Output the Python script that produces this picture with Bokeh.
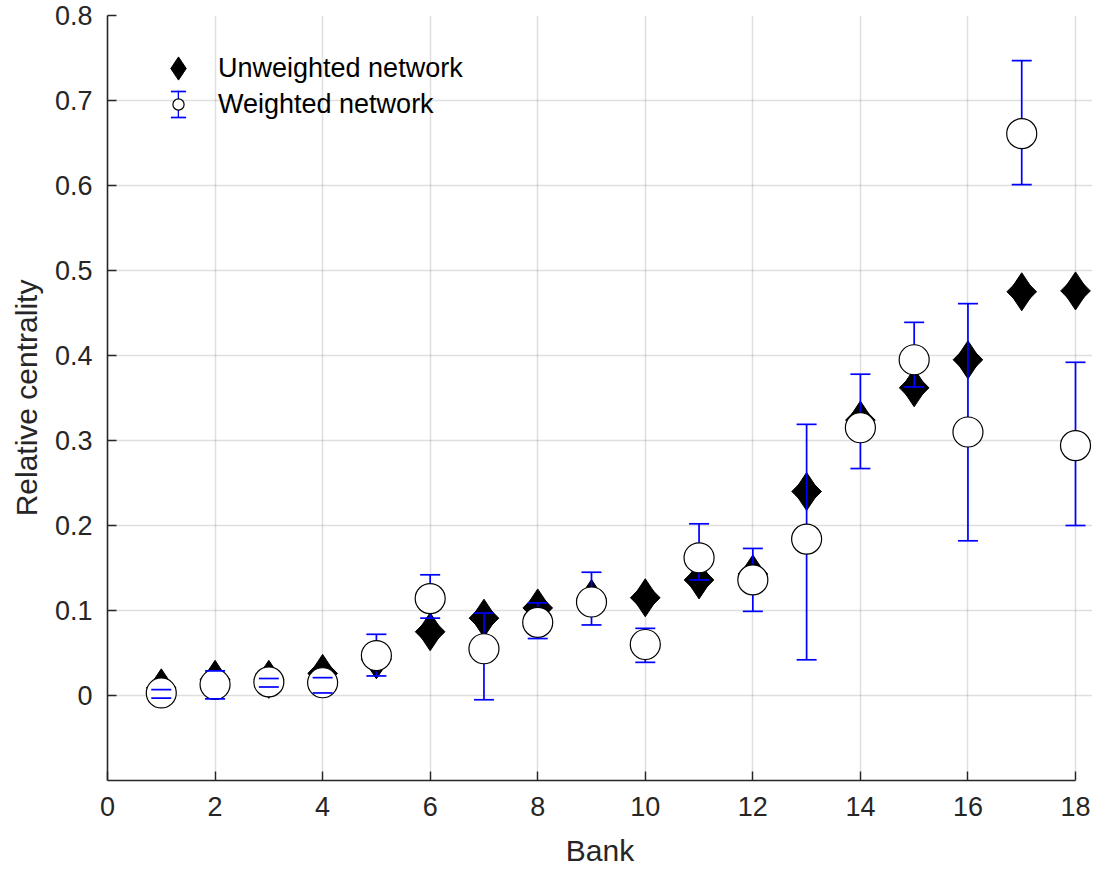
import math
from bokeh.plotting import figure
from bokeh.models import ColumnDataSource, Range1d, FixedTicker, Legend, LegendItem
from bokeh.embed import file_html
from bokeh.resources import INLINE

# ---- data ----
banks = list(range(1, 19))
unweighted = [0.009, 0.019, 0.019, 0.026, 0.042, 0.075, 0.091, 0.103, 0.114, 0.115,
              0.136, 0.143, 0.240, 0.324, 0.362, 0.395, 0.475, 0.476]
weighted = [0.003, 0.013, 0.016, 0.015, 0.047, 0.114, 0.055, 0.086, 0.110, 0.060,
            0.162, 0.136, 0.184, 0.315, 0.395, 0.310, 0.661, 0.294]
weighted_low = [-0.003, -0.004, 0.010, 0.003, 0.023, 0.091, -0.005, 0.067, 0.083, 0.039,
                0.136, 0.099, 0.042, 0.267, 0.363, 0.182, 0.601, 0.200]
weighted_high = [0.007, 0.029, 0.020, 0.021, 0.072, 0.142, 0.097, 0.109, 0.145, 0.079,
                 0.202, 0.173, 0.319, 0.378, 0.439, 0.461, 0.747, 0.392]

x_ticks = [0, 2, 4, 6, 8, 10, 12, 14, 16, 18]
x_tick_labels = ["0", "2", "4", "6", "8", "10", "12", "14", "16", "18"]
y_ticks = [0, 0.1, 0.2, 0.3, 0.4, 0.5, 0.6, 0.7, 0.8]
y_tick_labels = ["0", "0.1", "0.2", "0.3", "0.4", "0.5", "0.6", "0.7", "0.8"]

series_names = ["Unweighted network", "Weighted network"]
x_title = "Bank"
y_title = "Relative centrality"

# ---- styles ----
FONT = "Liberation Sans"
TXT = "#262626"
BLUE = "#0000ff"
STEM_W = 0.032  # error-bar stem width (data units, about 1.7 px)

src = ColumnDataSource(dict(bank=banks, unw=unweighted, w=weighted,
                            lo=weighted_low, hi=weighted_high))

p = figure(width=1092, height=869, output_backend="svg", toolbar_location=None,
           x_range=Range1d(0, 18.316), y_range=Range1d(-0.1, 0.8),
           min_border_left=107, min_border_right=0, min_border_top=15, min_border_bottom=89)
p.outline_line_color = None
p.background_fill_color = "white"
p.border_fill_color = "white"

# axes
for ax in (p.xaxis[0], p.yaxis[0]):
    ax.axis_line_color = TXT
    ax.axis_line_width = 1.6
    ax.major_tick_line_color = TXT
    ax.major_tick_line_width = 1.4
    ax.major_tick_in = 9
    ax.major_tick_out = 0
    ax.minor_tick_line_color = None
    ax.major_label_text_font = FONT
    ax.major_label_text_font_size = "27px"
    ax.major_label_text_color = TXT
    ax.axis_label_text_font = FONT
    ax.axis_label_text_font_size = "30px"
    ax.axis_label_text_font_style = "normal"
    ax.axis_label_text_color = TXT

p.xaxis.ticker = FixedTicker(ticks=x_ticks)
p.xaxis.major_label_overrides = dict(zip(x_ticks, x_tick_labels))
p.xaxis.bounds = (x_ticks[0], x_ticks[-1])
p.xaxis.axis_label = x_title
p.xaxis.major_label_standoff = 16
p.xaxis.axis_label_standoff = 15

p.yaxis.ticker = FixedTicker(ticks=y_ticks)
p.yaxis.major_label_overrides = dict(zip(y_ticks, y_tick_labels))
p.yaxis.axis_label = y_title
p.yaxis.major_label_standoff = 15
p.yaxis.axis_label_standoff = 9

# grid
p.xgrid.ticker = FixedTicker(ticks=x_ticks)
p.ygrid.ticker = FixedTicker(ticks=y_ticks)
p.ygrid.bounds = (x_ticks[0], x_ticks[-1])
for g in (p.xgrid[0], p.ygrid[0]):
    g.grid_line_color = TXT
    g.grid_line_alpha = 0.15
    g.grid_line_width = 1.5

# ---- marks ----
r_dia = p.scatter("bank", "unw", source=src, marker="diamond", size=38,
                  fill_color="black", line_color="black", line_width=1)
p.scatter("bank", "unw", source=src, marker="square", angle=math.pi / 4, size=21,
          fill_color="black", line_color="black", line_width=1)
r_stem = p.vbar(x="bank", bottom="lo", top="hi", width=STEM_W,
                source=src, fill_color=BLUE, line_color=None)
r_circ = p.scatter("bank", "w", source=src, marker="circle", size=30,
                   fill_color="white", line_color="black", line_width=1.2)
r_cap = p.scatter("bank", "hi", source=src, marker="dash", size=20,
                  line_color=BLUE, line_width=1.7)
p.scatter("bank", "lo", source=src, marker="dash", size=20, line_color=BLUE, line_width=1.7)

# ---- legend (stacked legends to build the icons) ----
def add_legend(label, renderer, loc, gw, gh, standoff, font_size="27px", alpha=1.0):
    lg = Legend(items=[LegendItem(label=label, renderers=[renderer], index=0)],
                location=loc, glyph_width=gw, glyph_height=gh,
                label_standoff=standoff, padding=0, margin=0, spacing=0,
                border_line_color=None, background_fill_color=None,
                label_text_font=FONT, label_text_font_size=font_size,
                label_text_color="black", label_text_alpha=alpha)
    p.add_layout(lg, "center")


add_legend(series_names[0], r_dia, (42, 683), 58, 58, 11)
# helper legends that only draw the error-bar parts of the second icon
add_legend("\u00b7", r_stem, (70, 660), 2, 33, 330, font_size="10px", alpha=0.0)
add_legend(series_names[1], r_circ, (57, 660), 28, 32, 26)
add_legend("\u00b7", r_cap, (52, 670), 38, 38, 350, font_size="10px", alpha=0.0)
add_legend("\u00b7", r_cap, (52, 644), 38, 38, 380, font_size="10px", alpha=0.0)

open("out.html", "w").write(file_html(p, INLINE))
